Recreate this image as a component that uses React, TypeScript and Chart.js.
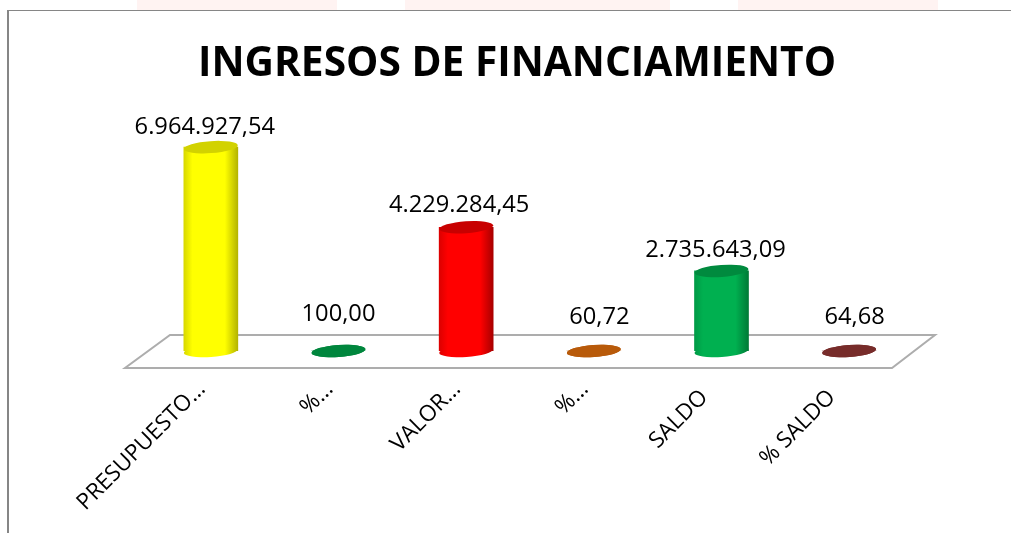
import React, { useEffect, useRef } from "react";
import { Chart, registerables } from "chart.js";

Chart.register(...registerables);

const titleText = "INGRESOS DE FINANCIAMIENTO";
const categories = ["PRESUPUESTO…", "%…", "VALOR…", "%…", "SALDO\u00A0\u00A0", "% SALDO\u00A0\u00A0"];
const values = [6964927.54, 100.0, 4229284.45, 60.72, 2735643.09, 64.68];
const valueLabels = ["6.964.927,54", "100,00", "4.229.284,45", "60,72", "2.735.643,09", "64,68"];
const bodyColors = ["#FFFF00", "#00863D", "#FF0000", "#B85A0A", "#00B050", "#772C2A"];
const leftEdgeColors = ["#D8D800", "#00863D", "#DC0000", "#B85A0A", "#009A46", "#772C2A"];
const rightEdgeColors = ["#B4B400", "#00863D", "#A80000", "#B85A0A", "#007A36", "#772C2A"];
const capColors = ["#D2D200", "#00863D", "#C80000", "#B85A0A", "#008A3E", "#772C2A"];
const labelShiftX = [-6, 0, -7, 5.5, -6, 5.5];
const labelGap = [20, 37, 22, 34, 21, 34];

const FONT = "'Open Sans', sans-serif";
const BAR_WIDTH = 54;
const barPath = (ctx: CanvasRenderingContext2D, x: number, y: number, w: number, color: any) => {
  ctx.fillStyle = color;
  ctx.beginPath();
  ctx.ellipse(x, y, w / 2, 6, (-4 * Math.PI) / 180, 0, Math.PI * 2);
  ctx.fill();
};

const gradientFor = (chart: Chart, i: number, x: number, w: number) => {
  const g = chart.ctx.createLinearGradient(x - w / 2, 0, x + w / 2, 0);
  g.addColorStop(0, leftEdgeColors[i]);
  g.addColorStop(0.16, bodyColors[i]);
  g.addColorStop(0.76, bodyColors[i]);
  g.addColorStop(1, rightEdgeColors[i]);
  return g;
};

const cylinderPlugin = {
  id: "cylinder",
  beforeDatasetsDraw(chart: Chart) {
    const { ctx, chartArea } = chart;
    const { left, right, bottom } = chartArea;
    ctx.save();
    ctx.beginPath();
    ctx.moveTo(left - 22, bottom + 17);
    ctx.lineTo(right - 21, bottom + 17);
    ctx.lineTo(right + 22, bottom - 16);
    ctx.lineTo(left + 23, bottom - 16);
    ctx.closePath();
    ctx.fillStyle = "#FFFFFF";
    ctx.fill();
    ctx.strokeStyle = "#ADADAD";
    ctx.lineWidth = 2;
    ctx.stroke();
    chart.getDatasetMeta(0).data.forEach((el: any, i: number) => {
      barPath(ctx, el.x, el.base, el.width, gradientFor(chart, i, el.x, el.width));
    });
    ctx.restore();
  },
  afterDatasetsDraw(chart: Chart) {
    const { ctx } = chart;
    ctx.save();
    chart.getDatasetMeta(0).data.forEach((el: any, i: number) => {
      barPath(ctx, el.x, el.y, el.width, capColors[i]);
      ctx.fillStyle = "#000000";
      ctx.font = `23.7px ${FONT}`;
      ctx.textAlign = "center";
      ctx.textBaseline = "middle";
      ctx.fillText(valueLabels[i], el.x + labelShiftX[i], el.y - labelGap[i]);
    });
    ctx.restore();
  },
};

export default function App() {
  const ref = useRef<HTMLCanvasElement>(null);
  useEffect(() => {
    const chart = new Chart(ref.current!, {
      type: "bar",
      data: {
        labels: categories,
        datasets: [
          {
            data: values,
            barThickness: BAR_WIDTH,
            borderWidth: 0,
            backgroundColor: (c: any) => {
              const el = c.element;
              if (!el || !c.chart.chartArea) return bodyColors[c.dataIndex];
              return gradientFor(c.chart, c.dataIndex, c.chart.scales.x.getPixelForValue(c.dataIndex), BAR_WIDTH);
            },
          },
        ],
      },
      options: {
        responsive: false,
        animation: false,
        layout: { padding: { left: 23, right: 0, top: 0, bottom: 0 } },
        plugins: {
          legend: { display: false },
          tooltip: { enabled: false },
          title: {
            display: true,
            text: titleText,
            color: "#000000",
            font: { family: FONT, size: 40.7, weight: "bold", lineHeight: 1.2 },
            padding: { top: 40, bottom: 28 },
          },
        },
        scales: {
          x: {
            grid: { display: false, drawTicks: false },
            border: { display: false },
            ticks: {
              autoSkip: false,
              minRotation: 45,
              maxRotation: 45,
              padding: 25,
              labelOffset: -9,
              color: "#000000",
              font: { family: FONT, size: 22.5 },
            },
            afterFit: (s: any) => {
              s.height = 182;
            },
          },
          y: {
            min: 0,
            max: 8000000,
            grid: { display: false },
            border: { display: false },
            ticks: { display: false },
            afterFit: (s: any) => {
              s.width = 124;
            },
          },
          y2: {
            position: "right",
            min: 0,
            max: 8000000,
            grid: { display: false },
            border: { display: false },
            ticks: { display: false },
            afterFit: (s: any) => {
              s.width = 98;
            },
          },
        },
      },
      plugins: [cylinderPlugin],
    } as any);
    return () => chart.destroy();
  }, []);

  const pink = (left: number, width: number) => (
    <div style={{ position: "absolute", left, top: 0, width, height: 10, background: "#FFF3F2" }} />
  );

  return (
    <div style={{ position: "fixed", left: 0, top: 0, width: 1011, height: 533, background: "#FFFFFF", overflow: "hidden" }}>
      {pink(137, 200)}
      {pink(405, 265)}
      {pink(738, 200)}
      <div style={{ position: "absolute", left: 7, top: 10, width: 1004, height: 1, background: "#868686" }} />
      <div style={{ position: "absolute", left: 7, top: 10, width: 2, height: 523, background: "#868686" }} />
      <canvas ref={ref} width={1011} height={533} style={{ position: "absolute", left: 0, top: 0, display: "block" }} />
    </div>
  );
}
